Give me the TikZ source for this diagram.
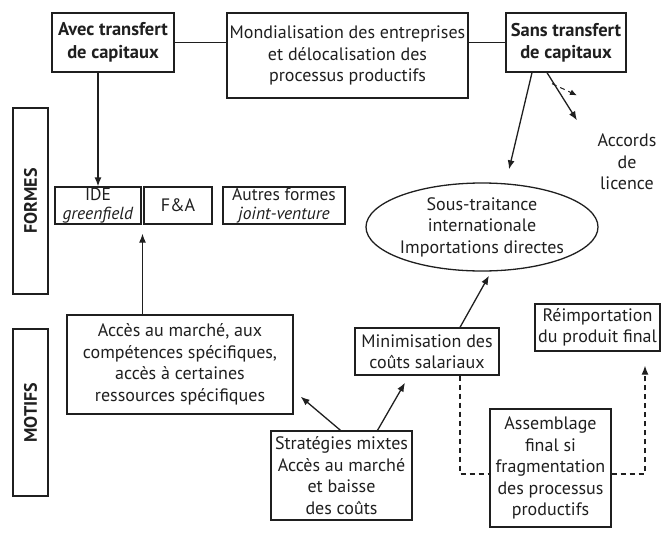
\documentclass[tikz,border=0pt]{standalone}
\usepackage{fontspec}
\setmainfont{PT Sans}
\usepackage{tikz}
\usetikzlibrary{calc,shapes,arrows.meta}

\begin{document}
\begin{tikzpicture}[x=1pt, y=-1pt, line width=1.3pt, color=black!88, ->,
  >={Latex[length=9pt,width=7pt]},
  font=\fontsize{18}{21.5}\selectfont,
  box/.style={draw,-,rectangle,inner sep=0pt,align=center},
  dashline/.style={dash pattern=on 5pt off 4pt}]
  \useasboundingbox (0,0) rectangle (664,544);

  \node [box,minimum width=122pt,minimum height=59pt,font=\fontsize{18.5}{22.5}\selectfont\bfseries] (avec) at (113, 42.5) {Avec transfert\\de capitaux};
  \node [box,minimum width=241pt,minimum height=85pt] (mond) at (347.5, 55.5) {Mondialisation des entreprises\\et délocalisation des\\processus productifs};
  \node [box,minimum width=120pt,minimum height=59pt,font=\fontsize{18.5}{22.5}\selectfont\bfseries] (sans) at (566, 42.5) {Sans transfert\\de capitaux};
  \draw [-] (avec.east) -- (avec.east -| mond.west);
  \draw [-] (mond.east |- sans.west) -- (sans.west);

  %side labels
  \node [box,rotate=90,minimum width=186pt,minimum height=35pt,font=\fontsize{18}{20}\selectfont\bfseries] (formes) at (30.5, 201) {FORMES};
  \node [box,rotate=90,minimum width=167pt,minimum height=35pt,font=\fontsize{18}{20}\selectfont\bfseries] (motifs) at (30.5, 412.5) {MOTIFS};

  %forms
  \node [box,minimum width=86pt,minimum height=37pt,font=\fontsize{17.5}{18.5}\selectfont] (ide) at (98, 205.5) {IDE\\\textit{greenfield}};
  \node [box,minimum width=68pt,minimum height=37pt] (fa) at (178, 205.5) {F\&A};
  \node [box,minimum width=122pt,minimum height=37pt,font=\fontsize{17.5}{18.5}\selectfont] (autres) at (284, 205.5) {Autres formes\\\textit{joint-venture}};
  \node [draw,-,ellipse,inner sep=0pt,minimum width=210pt,minimum height=88pt,align=center] (ell) at (482, 227) {Sous-traitance\\internationale\\Importations directes};
  \node [align=center,inner sep=0pt] (accords) at (627, 162) {Accords\\de\\licence};

  %motives
  \node [box,minimum width=226pt,minimum height=99pt] (acces) at (180, 364.5) {Accès au marché, aux\\compétences spécifiques,\\accès à certaines\\ressources spécifiques};
  \node [box,minimum width=141pt,minimum height=89pt] (strat) at (341.5, 475.5) {Stratégies mixtes\\Accès au marché\\et baisse\\des coûts};
  \node [box,minimum width=144pt,minimum height=47pt] (mini) at (427, 351.5) {Minimisation des\\coûts salariaux};
  \node [box,minimum width=125pt,minimum height=47pt] (reimp) at (597.5, 327.5) {Réimportation\\du produit final};
  \node [box,minimum width=121pt,minimum height=118pt] (assemb) at (550.5, 468) {Assemblage\\final si\\fragmentation\\des processus\\productifs};

  \coordinate (ifa) at ($(ide.south east)!0.5!(fa.south west)+(0,9)$);
  \draw (avec.south -| ide.north) -- (ide.north);
  \draw (acces.north -| ifa) -- (ifa);
  \draw ([xshift=-1pt]strat.north) -- ($(acces.south east)+(7,-18)$);
  \draw ([xshift=36pt]strat.north) -- ([xshift=-22pt,yshift=-7pt]mini.north |- mini.south);
  \draw ([xshift=33pt]mini.north) -- ([xshift=7pt,yshift=-4pt]ell.south);
  \draw ([xshift=-34pt]sans.south) -- ([xshift=27pt,yshift=13pt]ell.north);
  \draw ([xshift=-19pt]sans.south) -- ($(accords.north west)+(-20,-13)$);
  \draw [dashline,line width=1pt,>={Latex[length=7pt,width=6pt]}] ([xshift=-14pt,yshift=-11pt]sans.south) -- ($(accords.north west)+(-20,-38)$);
  \draw [dashline,-] ([xshift=33pt]mini.south) |- ([yshift=-6pt]assemb.west);
  \draw [dashline] ([yshift=-6pt]assemb.east) -| ([xshift=47.5pt,yshift=-14pt]reimp.south);
\end{tikzpicture}
\end{document}
